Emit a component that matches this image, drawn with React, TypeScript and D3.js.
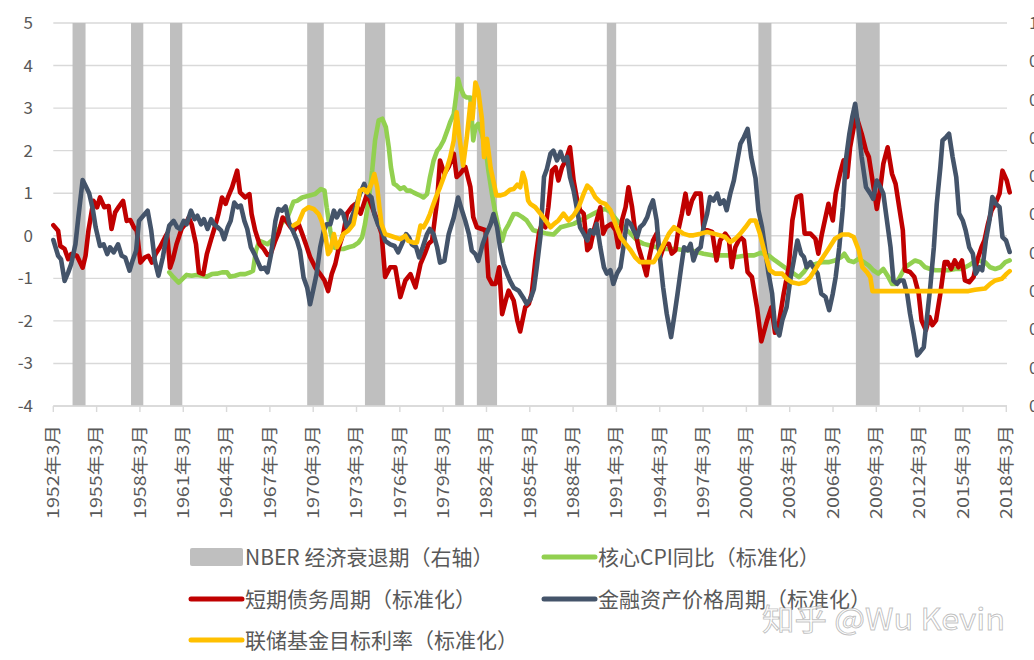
import React from 'react';
import * as d3 from 'd3';

const W = 1034;
const H = 660;

type P = [number, number];

const leftTicks = [-4, -3, -2, -1, 0, 1, 2, 3, 4, 5];
const rightTicks = [0, 0.1, 0.2, 0.3, 0.4, 0.5, 0.6, 0.7, 0.8, 0.9, 1];
const rightTickLabels = ['0', '0.1', '0.2', '0.3', '0.4', '0.5', '0.6', '0.7', '0.8', '0.9', '1'];
const tickYears = d3.range(1952, 2019, 3);

// NBER recession periods [start, end] (fractional years)
const recessions: P[] = [
  [1953.5, 1954.4], [1957.55, 1958.4], [1960.25, 1961.1], [1969.75, 1970.9],
  [1973.75, 1975.15], [1980.0, 1980.6], [1981.5, 1982.9], [1990.5, 1991.15],
  [2001.0, 2001.9], [2007.75, 2009.4],
];

// 核心CPI同比（标准化）
const coreCpi: P[] = [
  [1960.2,-0.86],[1960.5,-0.98],[1960.85,-1.1],[1961.1,-1.02],[1961.4,-0.92],[1961.75,-0.94],[1962.1,-0.92],
  [1962.45,-0.94],[1962.8,-0.96],[1963.15,-0.9],[1963.5,-0.89],[1963.85,-0.86],[1964.2,-0.86],[1964.4,-0.96],
  [1964.75,-0.94],[1965.1,-0.9],[1965.45,-0.9],[1965.8,-0.86],[1966.0,-0.82],[1966.2,-0.35],[1966.45,-0.12],
  [1966.75,-0.16],[1967.0,-0.2],[1967.5,-0.05],[1968.0,0.3],[1968.4,0.45],[1968.8,0.8],[1969.05,0.82],
  [1969.4,0.9],[1969.85,0.94],[1970.3,0.98],[1970.7,1.1],[1970.95,1.06],[1971.1,0.67],[1971.35,0.12],
  [1971.6,-0.27],[1971.9,-0.31],[1972.25,-0.31],[1972.6,-0.27],[1972.95,-0.24],[1973.3,-0.16],[1973.55,-0.04],
  [1973.75,0.27],[1974.0,0.82],[1974.25,1.53],[1974.45,2.24],[1974.7,2.71],[1974.95,2.75],[1975.2,2.55],
  [1975.4,2.08],[1975.55,1.61],[1975.75,1.22],[1975.95,1.18],[1976.2,1.1],[1976.45,1.14],[1976.65,1.06],
  [1976.9,1.06],[1977.1,1.02],[1977.35,0.98],[1977.6,0.94],[1977.8,0.9],[1978.05,0.98],[1978.25,1.37],
  [1978.5,1.76],[1978.75,2.0],[1978.95,2.08],[1979.2,2.24],[1979.45,2.47],[1979.65,2.67],[1979.9,2.86],
  [1980.05,3.25],[1980.2,3.69],[1980.35,3.49],[1980.6,3.29],[1980.8,3.25],[1981.05,3.25],[1981.25,2.24],
  [1981.4,2.55],[1981.6,2.63],[1981.85,2.39],[1982.1,2.08],[1982.3,1.53],[1982.55,0.98],[1982.75,0.59],
  [1983.0,0.2],[1983.25,-0.12],[1983.45,0.12],[1983.7,0.27],[1984.05,0.51],[1984.3,0.51],[1984.6,0.45],
  [1984.95,0.36],[1985.4,0.13],[1985.9,0.09],[1986.35,0.05],[1986.8,0.03],[1987.3,0.2],[1987.75,0.24],
  [1988.2,0.28],[1988.65,0.36],[1989.15,0.44],[1989.6,0.52],[1990.05,0.6],[1990.4,0.63],[1990.75,0.56],
  [1991.2,0.36],[1991.65,0.2],[1992.15,0.05],[1992.6,-0.11],[1993.05,-0.19],[1993.5,-0.23],[1993.95,-0.27],
  [1994.45,-0.31],[1994.9,-0.31],[1995.35,-0.31],[1995.8,-0.34],[1996.3,-0.34],[1996.75,-0.38],[1997.2,-0.42],
  [1997.8,-0.46],[1998.35,-0.46],[1998.95,-0.46],[1999.5,-0.5],[2000.2,-0.46],[2000.7,-0.46],[2001.15,-0.4],
  [2001.7,-0.46],[2002.15,-0.58],[2002.65,-0.7],[2003.1,-0.81],[2003.45,-0.89],[2003.8,-0.97],[2004.15,-0.85],
  [2004.45,-0.7],[2004.95,-0.66],[2005.4,-0.62],[2005.85,-0.62],[2006.3,-0.58],[2006.75,-0.5],[2006.95,-0.42],
  [2007.25,-0.58],[2007.6,-0.62],[2007.95,-0.54],[2008.3,-0.62],[2008.65,-0.7],[2008.95,-0.81],[2009.3,-0.89],
  [2009.65,-0.78],[2010.0,-0.97],[2010.25,-1.13],[2010.5,-1.13],[2010.8,-0.97],[2011.15,-0.74],[2011.5,-0.66],
  [2011.85,-0.58],[2012.2,-0.62],[2012.55,-0.74],[2012.9,-0.78],[2013.25,-0.81],[2013.7,-0.81],[2014.15,-0.81],
  [2014.65,-0.78],[2015.1,-0.78],[2015.55,-0.7],[2015.9,-0.62],[2016.25,-0.58],[2016.7,-0.62],[2017.05,-0.74],
  [2017.4,-0.78],[2017.75,-0.74],[2018.1,-0.62],[2018.4,-0.58],
];

// 短期债务周期（标准化）
const debtCycle: P[] = [
  [1952.17,0.25],[1952.5,0.12],[1952.65,-0.24],[1952.95,-0.31],[1953.2,-0.55],[1953.4,-0.43],[1953.8,-0.47],
  [1954.2,-0.75],[1954.4,-0.47],[1954.6,0.12],[1954.95,0.82],[1955.2,0.67],[1955.4,0.9],[1955.7,0.67],
  [1956.0,0.7],[1956.2,0.16],[1956.45,0.55],[1956.7,0.68],[1957.0,0.82],[1957.25,0.35],[1957.5,0.37],
  [1957.75,0.2],[1957.95,0.12],[1958.2,-0.63],[1958.5,-0.51],[1958.75,-0.47],[1959.0,-0.63],[1959.25,-0.43],
  [1959.55,-0.27],[1959.9,-0.04],[1960.05,0.05],[1960.25,-0.75],[1960.45,-0.55],[1960.7,-0.2],[1961.05,0.16],
  [1961.3,0.27],[1961.55,0.43],[1961.75,0.27],[1962.05,-0.2],[1962.25,-0.86],[1962.55,-0.9],[1962.8,-0.43],
  [1963.1,-0.08],[1963.35,0.2],[1963.6,0.51],[1963.85,0.9],[1964.1,0.75],[1964.3,0.94],[1964.55,1.14],
  [1964.9,1.53],[1965.1,1.02],[1965.45,0.9],[1965.75,0.98],[1965.9,0.51],[1966.15,0.12],[1966.45,-0.2],
  [1966.75,-0.31],[1967.0,-0.45],[1967.25,-0.4],[1967.5,-0.15],[1967.8,0.1],[1968.05,0.43],[1968.3,0.35],
  [1968.6,0.2],[1968.85,0.13],[1969.15,0.28],[1969.4,0.05],[1969.65,-0.19],[1969.95,-0.5],[1970.3,-0.74],
  [1970.65,-0.9],[1970.95,-1.05],[1971.2,-1.3],[1971.45,-0.9],[1971.7,-0.66],[1971.95,-0.27],[1972.25,0.05],
  [1972.5,0.52],[1972.85,0.68],[1973.1,0.75],[1973.45,0.52],[1973.9,0.99],[1974.25,0.67],[1974.6,0.36],
  [1974.9,0.05],[1975.15,-0.97],[1975.5,-0.74],[1975.85,-0.74],[1976.2,-1.44],[1976.55,-1.05],[1976.9,-0.9],
  [1977.25,-1.21],[1977.6,-0.66],[1977.9,-0.42],[1978.15,-0.19],[1978.4,-0.11],[1978.75,0.83],[1978.95,1.77],
  [1979.25,1.46],[1979.55,1.62],[1979.9,1.93],[1980.1,1.38],[1980.35,1.46],[1980.7,1.62],[1981.05,1.15],
  [1981.25,0.44],[1981.5,0.2],[1981.85,0.16],[1982.1,0.13],[1982.3,-0.97],[1982.55,-1.13],[1982.8,-1.13],
  [1983.05,-0.74],[1983.25,-1.84],[1983.5,-1.52],[1983.7,-1.29],[1984.05,-1.52],[1984.3,-1.99],[1984.5,-2.25],
  [1984.85,-1.68],[1985.1,-1.6],[1985.3,-1.36],[1985.55,-0.58],[1985.8,0.05],[1986.0,0.28],[1986.25,0.2],
  [1986.45,0.67],[1986.7,1.53],[1986.95,1.61],[1987.15,1.3],[1987.4,1.61],[1987.65,1.77],[1987.95,2.08],
  [1988.2,1.3],[1988.45,0.83],[1988.65,0.6],[1988.9,0.52],[1989.15,-0.34],[1989.35,-0.27],[1989.6,0.13],
  [1989.8,0.36],[1990.05,0.67],[1990.25,0.05],[1990.45,0.2],[1990.8,0.28],[1991.1,0.13],[1991.3,-0.27],
  [1991.55,0.36],[1991.8,0.67],[1992.0,1.14],[1992.25,0.67],[1992.45,0.13],[1992.7,-0.27],[1993.0,-0.62],
  [1993.25,-0.93],[1993.45,-0.5],[1993.7,-0.11],[1993.95,0.05],[1994.2,-0.5],[1994.5,-0.19],[1994.8,-0.19],
  [1995.0,-0.42],[1995.25,-0.34],[1995.45,0.13],[1995.7,0.52],[1995.95,0.99],[1996.15,0.52],[1996.4,0.83],
  [1996.65,0.99],[1997.0,0.99],[1997.2,0.13],[1997.45,0.13],[1997.8,0.09],[1998.1,-0.58],[1998.35,-0.11],
  [1998.7,0.05],[1998.95,-0.07],[1999.15,-0.74],[1999.4,-0.27],[1999.75,-0.03],[2000.0,-0.11],[2000.25,-0.85],
  [2000.55,-0.97],[2000.9,-1.68],[2001.2,-2.48],[2001.6,-1.99],[2001.9,-1.68],[2002.15,-2.28],[2002.45,-1.99],
  [2002.75,-1.36],[2003.1,-0.74],[2003.35,0.36],[2003.65,0.91],[2003.95,0.95],[2004.2,0.05],[2004.6,0.05],
  [2004.95,-0.07],[2005.15,-0.42],[2005.4,0.05],[2005.65,0.44],[2005.85,0.75],[2006.15,0.36],[2006.35,0.99],
  [2006.65,1.46],[2006.9,1.77],[2007.15,1.38],[2007.35,2.08],[2007.6,2.55],[2007.8,2.79],[2008.15,2.4],
  [2008.45,2.0],[2008.65,1.85],[2008.9,1.3],[2009.2,0.63],[2009.45,1.14],[2009.65,1.69],[2009.95,2.08],
  [2010.25,1.46],[2010.5,1.22],[2010.75,0.67],[2011.0,0.13],[2011.15,-0.81],[2011.5,-0.85],[2011.8,-0.97],
  [2012.1,-1.36],[2012.3,-1.99],[2012.6,-2.22],[2012.85,-1.91],[2013.05,-2.1],[2013.3,-1.99],[2013.6,-1.36],
  [2013.9,-0.62],[2014.1,-0.62],[2014.35,-0.78],[2014.6,-0.58],[2014.85,-0.74],[2015.1,-0.58],[2015.3,-1.05],
  [2015.6,-1.09],[2015.9,-0.97],[2016.15,-0.58],[2016.45,-0.27],[2016.65,-0.11],[2016.9,0.28],[2017.15,0.6],
  [2017.4,0.75],[2017.7,0.99],[2017.9,1.53],[2018.2,1.3],[2018.4,1.02],
];

// 金融资产价格周期（标准化）
const assetCycle: P[] = [
  [1952.17,-0.1],[1952.5,-0.47],[1952.7,-0.55],[1952.95,-1.06],[1953.2,-0.86],[1953.4,-0.67],[1953.7,-0.2],
  [1953.9,0.43],[1954.2,1.31],[1954.45,1.14],[1954.65,1.0],[1954.9,0.63],[1955.1,0.2],[1955.4,-0.24],
  [1955.65,-0.2],[1955.9,-0.43],[1956.1,-0.27],[1956.35,-0.39],[1956.65,-0.2],[1956.9,-0.47],[1957.15,-0.51],
  [1957.45,-0.82],[1957.65,-0.59],[1957.9,-0.35],[1958.1,0.35],[1958.4,0.47],[1958.7,0.59],[1958.95,0.12],
  [1959.2,-0.59],[1959.45,-0.94],[1959.75,-0.51],[1959.95,-0.12],[1960.2,0.24],[1960.5,0.35],[1960.75,0.2],
  [1960.95,0.16],[1961.2,0.35],[1961.4,0.27],[1961.7,0.59],[1961.95,0.39],[1962.15,0.47],[1962.4,0.27],
  [1962.6,0.39],[1962.85,0.16],[1963.1,0.39],[1963.3,0.27],[1963.55,0.2],[1963.8,0.12],[1964.0,-0.08],
  [1964.25,0.2],[1964.45,0.35],[1964.7,0.78],[1964.95,0.67],[1965.15,0.71],[1965.4,0.35],[1965.6,0.16],
  [1965.85,-0.27],[1966.1,-0.43],[1966.3,-0.59],[1966.55,-0.78],[1966.8,-0.75],[1967.0,-0.86],[1967.25,-0.43],
  [1967.55,0.35],[1967.75,0.63],[1968.0,0.59],[1968.25,0.69],[1968.5,0.3],[1968.75,0.12],[1969.05,-0.12],
  [1969.25,-0.35],[1969.5,-0.98],[1969.75,-1.22],[1969.95,-1.61],[1970.2,-1.22],[1970.4,-0.9],[1970.65,-0.27],
  [1970.9,0.12],[1971.1,0.27],[1971.35,0.27],[1971.6,0.59],[1971.8,0.43],[1972.05,0.59],[1972.25,0.51],
  [1972.5,0.2],[1972.75,0.35],[1973.1,0.67],[1973.4,0.98],[1973.7,1.22],[1973.95,0.98],[1974.2,0.9],
  [1974.4,0.51],[1974.65,0.27],[1974.9,0.12],[1975.15,-0.12],[1975.5,-0.2],[1975.8,-0.24],[1976.05,-0.39],
  [1976.3,-0.2],[1976.6,0.04],[1976.8,-0.04],[1977.0,-0.2],[1977.3,-0.27],[1977.5,-0.51],[1977.75,-0.27],
  [1978.05,0.04],[1978.25,0.16],[1978.5,0.04],[1978.75,-0.27],[1978.95,-0.63],[1979.25,-0.59],[1979.55,0.04],
  [1979.9,0.43],[1980.2,0.9],[1980.4,0.67],[1980.7,0.35],[1980.95,0.04],[1981.15,-0.35],[1981.4,-0.43],
  [1981.6,-0.59],[1981.9,-0.2],[1982.15,0.04],[1982.45,0.27],[1982.65,0.51],[1982.9,0.2],[1983.1,-0.27],
  [1983.35,-0.67],[1983.6,-0.9],[1983.8,-1.06],[1984.05,-1.22],[1984.4,-1.29],[1984.7,-1.45],[1984.95,-1.6],
  [1985.2,-1.5],[1985.45,-1.25],[1985.65,-0.74],[1985.9,-0.03],[1986.15,1.38],[1986.35,1.57],[1986.6,1.93],
  [1986.8,2.0],[1987.05,1.77],[1987.3,1.97],[1987.5,1.77],[1987.75,1.85],[1987.95,1.38],[1988.2,1.06],
  [1988.45,0.6],[1988.65,0.2],[1988.9,0.05],[1989.15,-0.11],[1989.35,0.13],[1989.6,0.05],[1989.8,0.28],
  [1990.05,-0.27],[1990.3,-0.74],[1990.5,-0.89],[1990.75,-0.81],[1990.95,-1.13],[1991.2,-0.89],[1991.45,-0.74],
  [1991.65,-0.27],[1991.9,0.36],[1992.15,0.28],[1992.35,0.13],[1992.6,-0.03],[1992.8,0.2],[1993.05,0.28],
  [1993.3,0.44],[1993.5,0.67],[1993.7,0.83],[1993.95,0.36],[1994.15,-0.42],[1994.4,-1.21],[1994.65,-1.83],
  [1994.95,-2.38],[1995.2,-1.83],[1995.4,-1.36],[1995.65,-0.74],[1995.85,-0.27],[1996.1,-0.34],[1996.3,-0.19],
  [1996.5,-0.58],[1996.75,-0.34],[1997.0,-0.27],[1997.2,0.2],[1997.45,0.52],[1997.65,0.91],[1997.9,0.83],
  [1998.15,0.99],[1998.35,0.75],[1998.6,0.83],[1998.8,0.6],[1999.05,0.99],[1999.3,1.3],[1999.5,1.69],
  [1999.75,2.16],[2000.0,2.32],[2000.25,2.51],[2000.5,1.85],[2000.8,1.35],[2001.0,0.6],[2001.25,0.2],
  [2001.45,-0.27],[2001.7,-0.89],[2001.95,-1.36],[2002.15,-2.15],[2002.45,-2.34],[2002.65,-1.99],[2002.95,-1.68],
  [2003.2,-1.05],[2003.45,-0.58],[2003.7,-0.11],[2003.95,-0.42],[2004.15,-0.5],[2004.35,-0.74],[2004.6,-0.62],
  [2004.8,-0.74],[2005.1,-0.89],[2005.35,-1.36],[2005.65,-1.44],[2005.9,-1.75],[2006.15,-1.36],[2006.35,-0.97],
  [2006.6,-0.27],[2006.85,0.67],[2007.05,1.77],[2007.3,2.4],[2007.5,2.79],[2007.7,3.1],[2007.95,2.47],
  [2008.15,1.85],[2008.45,1.14],[2008.75,0.99],[2008.95,0.87],[2009.2,1.3],[2009.45,1.14],[2009.65,0.99],
  [2009.9,0.36],[2010.15,-0.27],[2010.35,-1.05],[2010.6,-1.13],[2010.8,-1.05],[2011.05,-1.05],[2011.3,-1.36],
  [2011.5,-1.83],[2011.75,-2.3],[2012.0,-2.81],[2012.2,-2.73],[2012.45,-2.62],[2012.65,-1.99],[2012.9,-1.21],
  [2013.15,-0.27],[2013.35,0.75],[2013.6,1.61],[2013.75,2.24],[2014.0,2.32],[2014.2,2.4],[2014.45,1.85],
  [2014.7,1.38],[2014.9,0.52],[2015.15,0.36],[2015.35,0.13],[2015.6,-0.27],[2015.85,-0.42],[2016.05,-0.89],
  [2016.3,-0.74],[2016.5,-0.81],[2016.75,-0.11],[2017.0,0.36],[2017.2,0.91],[2017.45,0.75],[2017.7,0.67],
  [2017.9,-0.03],[2018.15,-0.11],[2018.4,-0.38],
];

// 联储基金目标利率（标准化）
const fedFunds: P[] = [
  [1968.8,0.24],[1969.15,0.31],[1969.5,0.59],[1969.85,0.67],[1970.2,0.63],[1970.55,0.51],[1970.75,0.35],
  [1971.0,0.04],[1971.2,-0.43],[1971.35,-0.35],[1971.6,0.04],[1971.8,-0.27],[1972.05,-0.12],[1972.25,0.04],
  [1972.6,0.12],[1972.95,0.27],[1973.2,0.67],[1973.4,1.06],[1973.65,1.1],[1973.9,1.02],[1974.2,1.22],
  [1974.4,1.45],[1974.6,1.14],[1974.75,0.67],[1974.9,0.27],[1975.15,0.04],[1975.5,0.0],[1975.85,-0.04],
  [1976.2,-0.08],[1976.55,0.0],[1976.75,-0.12],[1977.1,-0.16],[1977.35,-0.16],[1977.6,0.24],[1977.8,0.2],
  [1978.05,0.35],[1978.25,0.51],[1978.5,0.75],[1978.75,0.98],[1978.95,1.14],[1979.2,1.37],[1979.45,1.61],
  [1979.65,1.84],[1979.9,2.24],[1980.1,2.9],[1980.3,2.3],[1980.55,1.65],[1980.8,2.3],[1981.05,3.1],
  [1981.2,2.75],[1981.4,3.6],[1981.6,3.4],[1981.85,2.75],[1982.0,1.85],[1982.2,2.28],[1982.45,1.6],
  [1982.7,1.2],[1982.85,0.95],[1983.15,0.95],[1983.45,0.98],[1983.8,1.08],[1984.05,1.1],[1984.3,1.2],
  [1984.5,1.14],[1984.68,1.48],[1984.85,1.3],[1985.05,0.83],[1985.2,0.75],[1985.55,0.67],[1985.9,0.52],
  [1986.25,0.36],[1986.6,0.2],[1986.85,0.28],[1987.15,0.36],[1987.5,0.52],[1987.85,0.36],[1988.2,0.48],
  [1988.55,0.67],[1988.9,0.99],[1989.15,1.18],[1989.4,1.1],[1989.7,0.91],[1990.05,0.79],[1990.4,0.75],
  [1990.75,0.6],[1991.1,0.28],[1991.45,-0.03],[1991.8,-0.19],[1992.15,-0.34],[1992.45,-0.5],[1992.8,-0.62],
  [1993.3,-0.62],[1993.75,-0.62],[1994.1,-0.42],[1994.45,-0.19],[1994.8,0.05],[1995.15,0.2],[1995.45,0.13],
  [1995.8,0.05],[1996.2,0.01],[1996.5,0.01],[1997.0,0.05],[1997.45,0.09],[1997.9,0.05],[1998.35,0.01],
  [1998.7,-0.03],[1999.05,-0.15],[1999.4,-0.07],[1999.75,0.05],[2000.1,0.2],[2000.45,0.36],[2000.8,0.36],
  [2001.1,0.05],[2001.45,-0.42],[2001.8,-0.81],[2002.15,-0.89],[2002.65,-0.89],[2002.95,-1.01],[2003.3,-1.09],
  [2003.8,-1.13],[2004.25,-1.09],[2004.6,-0.97],[2004.95,-0.78],[2005.4,-0.54],[2005.85,-0.31],[2006.3,-0.07],
  [2006.8,0.03],[2007.25,0.03],[2007.6,-0.03],[2007.95,-0.34],[2008.2,-0.74],[2008.5,-0.85],[2008.75,-0.97],
  [2008.9,-1.3],[2015.55,-1.3],[2016.0,-1.27],[2016.7,-1.24],[2017.05,-1.13],[2017.4,-1.05],[2017.85,-1.01],
  [2018.2,-0.89],[2018.4,-0.83],
];

const seriesOrder = [
  { name: '核心CPI同比（标准化）', color: '#92D050', data: coreCpi },
  { name: '短期债务周期（标准化）', color: '#C00000', data: debtCycle },
  { name: '金融资产价格周期（标准化）', color: '#44546A', data: assetCycle },
  { name: '联储基金目标利率（标准化）', color: '#FFC000', data: fedFunds },
];

const legendItems = [
  { label: 'NBER 经济衰退期（右轴）', color: '#BFBFBF', kind: 'rect', col: 0, row: 0 },
  { label: '核心CPI同比（标准化）', color: '#92D050', kind: 'line', col: 1, row: 0 },
  { label: '短期债务周期（标准化）', color: '#C00000', kind: 'line', col: 0, row: 1 },
  { label: '金融资产价格周期（标准化）', color: '#44546A', kind: 'line', col: 1, row: 1 },
  { label: '联储基金目标利率（标准化）', color: '#FFC000', kind: 'line', col: 0, row: 2 },
];

const FONT = '"Noto Sans CJK SC", "Noto Sans", sans-serif';
const TEXT = '#595959';
const GRID = '#D9D9D9';

export default function App() {
  const x = d3.scaleLinear().domain([1952.167, 2018.167]).range([53.3, 1006.3]);
  const y = d3.scaleLinear().domain([-4, 5]).range([406, 23]);
  const yR = d3.scaleLinear().domain([0, 1]).range([406, 23]);
  const line = d3.line<P>().x((d) => x(d[0])).y((d) => y(d[1])).curve(d3.curveLinear);

  const legendColX = [190, 543];
  const legendRowY = [557, 599, 640];

  return (
    <svg
      width={W}
      height={H}
      viewBox={`0 0 ${W} ${H}`}
      style={{ position: 'absolute', left: 0, top: 0, background: '#fff', overflow: 'hidden' }}
      fontFamily={FONT}
    >
      <rect x={0} y={0} width={W} height={H} fill="#fff" />
      {/* gridlines */}
      {leftTicks.map((t) => (
        <line key={'g' + t} x1={53.3} x2={1007} y1={y(t)} y2={y(t)} stroke={GRID} strokeWidth={1.4} />
      ))}
      {/* recession bars */}
      {recessions.map(([s, e], i) => (
        <rect key={'r' + i} x={x(s)} y={yR(1)} width={x(e) - x(s)} height={yR(0) - yR(1)} fill="#BFBFBF" />
      ))}
      {/* x axis ticks */}
      {tickYears.map((yr) => (
        <line key={'t' + yr} x1={x(yr + 2 / 12)} x2={x(yr + 2 / 12)} y1={406} y2={412} stroke={GRID} strokeWidth={1.4} />
      ))}
      <line x1={53.3} x2={1007} y1={406} y2={406} stroke={GRID} strokeWidth={1.4} />
      {/* lines */}
      {seriesOrder.map((s) => (
        <path
          key={s.name}
          d={line(s.data) || ''}
          fill="none"
          stroke={s.color}
          strokeWidth={4.6}
          strokeLinejoin="round"
          strokeLinecap="round"
        />
      ))}
      {/* left axis labels */}
      {leftTicks.map((t) => (
        <text key={'l' + t} x={33} y={y(t)} dy="0.35em" textAnchor="end" fontSize={17} fill={TEXT}>
          {t}
        </text>
      ))}
      {/* right axis labels (cropped at edge) */}
      {rightTicks.map((t, i) => (
        <text key={'rr' + i} x={1029} y={yR(t)} dy="0.35em" textAnchor="start" fontSize={17} fill={TEXT}>
          {rightTickLabels[i]}
        </text>
      ))}
      {/* x axis labels */}
      {tickYears.map((yr) => {
        const tx = x(yr + 2 / 12);
        return (
          <text
            key={'xl' + yr}
            transform={`translate(${tx},425) rotate(-90)`}
            dy="0.35em"
            textAnchor="end"
            fontSize={16.5}
            fill={TEXT}
            textLength={94}
            lengthAdjust="spacingAndGlyphs"
          >
            {`${yr}年3月`}
          </text>
        );
      })}
      {/* legend */}
      {legendItems.map((it) => {
        const lx = legendColX[it.col];
        const ly = legendRowY[it.row];
        return (
          <g key={it.label}>
            {it.kind === 'rect' ? (
              <rect x={lx} y={ly - 9} width={53} height={18} rx={2} fill={it.color} />
            ) : (
              <line x1={lx + 1} x2={lx + 52} y1={ly} y2={ly} stroke={it.color} strokeWidth={5} strokeLinecap="round" />
            )}
            <text x={lx + 55} y={ly} dy="0.36em" fontSize={21} fill={TEXT}>
              {it.label}
            </text>
          </g>
        );
      })}
      {/* watermark */}
      <text
        x={762}
        y={619}
        dy="0.36em"
        fontSize={30}
        fill="#ffffff"
        fillOpacity={0.75}
        stroke="#8c8c8c"
        strokeOpacity={0.55}
        strokeWidth={0.9}
        textLength={243}
        lengthAdjust="spacingAndGlyphs"
      >
        知乎 @Wu Kevin
      </text>
    </svg>
  );
}
